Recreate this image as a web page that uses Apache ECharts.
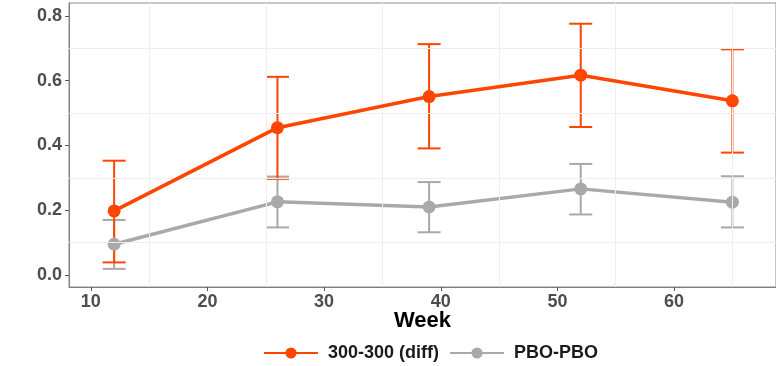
<!DOCTYPE html>
<html>
<head>
<meta charset="utf-8">
<script src="https://cdn.jsdelivr.net/npm/echarts@6.0.0/dist/echarts.min.js"></script>
<style>
  html, body { margin: 0; padding: 0; background: #fff; }
  #chart { width: 776px; height: 366px; }
</style>
</head>
<body>
<div id="chart"></div>
<script>
// data
const weeks = [12, 26, 39, 52, 65];
const diffMean = [0.198, 0.455, 0.551, 0.617, 0.538];
const diffLow = [0.039, 0.297, 0.391, 0.457, 0.378];
const diffHigh = [0.353, 0.612, 0.713, 0.776, 0.697];
const pboMean = [0.095, 0.226, 0.210, 0.266, 0.225];
const pboLow = [0.019, 0.147, 0.132, 0.187, 0.147];
const pboHigh = [0.170, 0.304, 0.287, 0.343, 0.305];
const xTicks = [10, 20, 30, 40, 50, 60];
const yTicks = [0, 0.2, 0.4, 0.6, 0.8];
const xGrid = [15, 25, 35, 45, 55, 65];
const yGrid = [0.1, 0.3, 0.5, 0.7];

const ORANGE = '#FF4500';
const GREY = '#A9A9A9';
const FONT = '"Liberation Sans", Arial, sans-serif';

const chart = echarts.init(document.getElementById('chart'));

function errorBars(name, color, lows, highs) {
  return {
    name: name + ' err',
    type: 'custom',
    silent: true,
    z: 3,
    data: weeks.map((w, i) => [w, lows[i], highs[i]]),
    renderItem: function (params, api) {
      const x = api.value(0);
      const lo = api.coord([x, api.value(1)]);
      const hi = api.coord([x, api.value(2)]);
      const half = 11.5;
      const style = { stroke: color, lineWidth: 2 };
      return {
        type: 'group',
        children: [
          { type: 'line', shape: { x1: lo[0], y1: lo[1], x2: hi[0], y2: hi[1] }, style: style },
          { type: 'line', shape: { x1: hi[0] - half, y1: hi[1], x2: hi[0] + half, y2: hi[1] }, style: style },
          { type: 'line', shape: { x1: lo[0] - half, y1: lo[1], x2: lo[0] + half, y2: lo[1] }, style: style }
        ]
      };
    }
  };
}

function meanLine(name, color, vals, z) {
  return {
    name: name,
    type: 'line',
    z: z,
    data: weeks.map((w, i) => [w, vals[i]]),
    symbol: 'circle',
    symbolSize: 13,
    lineStyle: { color: color, width: 3.5 },
    itemStyle: { color: color },
    emphasis: { disabled: true }
  };
}

const option = {
  animation: false,
  grid: {
    left: 69, right: -7, top: 3, bottom: 79,
    show: true, borderColor: '#8c8c8c', borderWidth: 1
  },
  legend: {
    left: 263, top: 344, padding: 0,
    itemWidth: 54, itemHeight: 14, itemGap: 10,
    data: ['300-300 (diff)', 'PBO-PBO'],
    textStyle: { fontFamily: FONT, fontWeight: 'bold', fontSize: 18, color: '#1a1a1a', padding: [0, 0, 0, 5] }
  },
  xAxis: {
    type: 'value',
    min: 8.13, max: 68.74,
    name: 'Week',
    nameLocation: 'middle',
    nameGap: 23,
    nameMoveOverlap: false,
    nameTextStyle: { fontFamily: FONT, fontWeight: 'bold', fontSize: 22, color: '#000' },
    axisLine: { show: true, onZero: false, lineStyle: { color: '#7f7f7f', width: 1 } },
    axisTick: { show: true, customValues: xTicks, length: 4, lineStyle: { color: '#555' } },
    axisLabel: { customValues: xTicks, margin: 6, fontFamily: FONT, fontWeight: 'bold', fontSize: 18, color: '#4d4d4d' },
    splitLine: { show: false }
  },
  yAxis: {
    type: 'value',
    min: -0.037, max: 0.84,
    axisLine: { show: true, onZero: false, lineStyle: { color: '#7f7f7f', width: 1 } },
    axisTick: { show: true, customValues: yTicks, length: 4, lineStyle: { color: '#555' } },
    axisLabel: {
      customValues: yTicks, margin: 7, fontFamily: FONT, fontWeight: 'bold', fontSize: 18, color: '#4d4d4d',
      formatter: v => v.toFixed(1)
    },
    splitLine: { show: false }
  },
  series: [
    {
      type: 'line',
      data: [],
      silent: true,
      z: 1,
      markLine: {
        silent: true,
        symbol: 'none',
        label: { show: false },
        lineStyle: { color: '#eeeeee', width: 1, type: 'solid' },
        data: xGrid.map(v => ({ xAxis: v })).concat(yGrid.map(v => ({ yAxis: v })))
      }
    },
    errorBars('PBO-PBO', GREY, pboLow, pboHigh),
    meanLine('PBO-PBO', GREY, pboMean, 4),
    errorBars('300-300 (diff)', ORANGE, diffLow, diffHigh),
    meanLine('300-300 (diff)', ORANGE, diffMean, 6)
  ]
};

chart.setOption(option);
</script>
</body>
</html>
